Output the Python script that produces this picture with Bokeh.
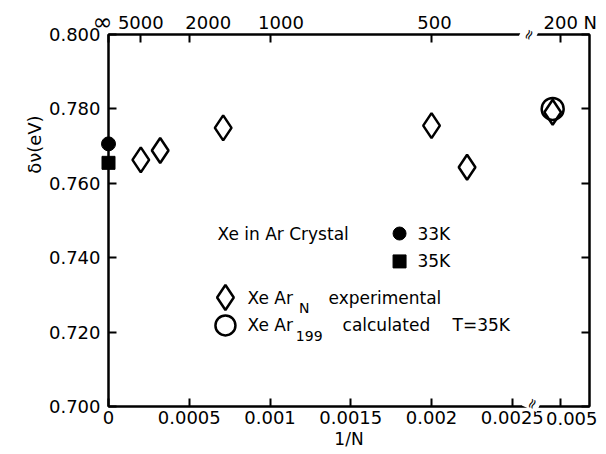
import math
from bokeh.plotting import figure
from bokeh.models import LinearAxis, FixedTicker, Label, Range1d
from bokeh.core.properties import value
from bokeh.embed import file_html
from bokeh.resources import INLINE

# ---- data ----
inv_N_exp = [0.00020, 0.00032, 0.00071, 0.00200, 0.00222, 0.00495]
shift_exp = [0.7663, 0.7688, 0.7749, 0.7755, 0.7643, 0.7791]
inv_N_calc = [0.00495]
shift_calc = [0.7800]
inv_N_crystal = [0.0]
shift_33K = [0.7706]
shift_35K = [0.7655]

bottom_ticks = [0.0, 0.0005, 0.001, 0.0015, 0.002, 0.0025, 0.005]
bottom_labels = ["0", "0.0005", "0.001", "0.0015", "0.002", "0.0025", "0.005"]
top_N = [math.inf, 5000, 2000, 1000, 500, 200]
top_labels = ["∞", "5000", "2000", "1000", "500", "200"]
y_ticks = [0.70, 0.72, 0.74, 0.76, 0.78, 0.80]
y_labels = ["0.700", "0.720", "0.740", "0.760", "0.780", "0.800"]

# broken x axis: values past the break are shifted left
BREAK_AT = 0.0027
BREAK_MARK = 0.0026
SEG2_ORIGIN = 0.005
SEG2_POS = 0.0028


def bx(v):
    return v if v <= BREAK_AT else v - SEG2_ORIGIN + SEG2_POS


FONT = "DejaVu Sans"
X_END = 0.002978

p = figure(width=606, height=454, output_backend="svg", toolbar_location=None,
           x_range=Range1d(0, X_END), y_range=Range1d(0.700, 0.800),
           x_axis_location=None, y_axis_location=None,
           min_border_left=108, min_border_right=17, min_border_top=34,
           min_border_bottom=48)
p.xgrid.visible = False
p.ygrid.visible = False
p.outline_line_color = "black"
p.outline_line_width = 2
p.background_fill_color = "white"
p.border_fill_color = "white"

bottom_axis = LinearAxis()
top_axis = LinearAxis()
left_axis = LinearAxis()
right_axis = LinearAxis()
p.add_layout(bottom_axis, "below")
p.add_layout(top_axis, "above")
p.add_layout(left_axis, "left")
p.add_layout(right_axis, "right")

bx_ticks = [bx(v) for v in bottom_ticks]
bottom_axis.ticker = FixedTicker(ticks=bx_ticks)
# last label ("0.005") is drawn separately, nudged right as in the reference
bottom_axis.major_label_overrides = {t: (l if i < len(bx_ticks) - 1 else "")
                                     for i, (t, l) in enumerate(zip(bx_ticks, bottom_labels))}
top_ticks = [bx(0.0 if math.isinf(n) else 1.0 / n) for n in top_N]
top_axis.ticker = FixedTicker(ticks=top_ticks)
top_axis.major_label_overrides = {t: "" for t in top_ticks}
top_axis.major_label_standoff = 0
left_axis.ticker = FixedTicker(ticks=y_ticks)
left_axis.major_label_overrides = {t: l for t, l in zip(y_ticks, y_labels)}
right_axis.ticker = FixedTicker(ticks=y_ticks)
right_axis.major_label_overrides = {t: "" for t in y_ticks}
right_axis.major_label_standoff = 0

for ax in [bottom_axis, top_axis, left_axis, right_axis]:
    ax.axis_line_width = 2
    ax.axis_line_color = "black"
    ax.major_tick_line_width = 2
    ax.major_tick_line_color = "black"
    ax.major_tick_in = 8
    ax.major_tick_out = 0
    ax.minor_tick_in = 0
    ax.minor_tick_out = 0
    ax.major_label_text_font = FONT
    ax.major_label_text_color = "black"
    ax.major_label_text_font_size = "18px"
left_axis.major_label_standoff = 8
bottom_axis.major_label_standoff = 4

bottom_axis.axis_label = "1/N"
bottom_axis.axis_label_text_font = FONT
bottom_axis.axis_label_text_font_size = "17px"
bottom_axis.axis_label_text_font_style = "normal"
bottom_axis.axis_label_text_color = "black"
bottom_axis.axis_label_standoff = 2


def outer_text(xs, ys, texts, x_offsets=0, align="center", angle=0.0, size="18px"):
    p.text(x=xs, y=ys, text=texts, x_offset=x_offsets, angle=angle,
           text_font=value(FONT), text_font_size=size, text_color="black",
           text_align=align, text_baseline="middle", level="overlay")


# top axis (N) labels, nudged as in the reference; the "∞" is drawn a bit larger
TOP_LABEL_Y = 0.80336
top_nudge = [-6, 0, 19, 11, 3, 0]
outer_text(top_ticks[:1], [TOP_LABEL_Y], top_labels[:1], x_offsets=top_nudge[0],
           size="24px")
outer_text(top_ticks[1:], [TOP_LABEL_Y] * (len(top_ticks) - 1), top_labels[1:],
           x_offsets=top_nudge[1:])
outer_text([X_END], [TOP_LABEL_Y], ["N"], x_offsets=-6, align="left")

# bottom "0.005" label
outer_text([bx_ticks[-1]], [0.69664], [bottom_labels[-1]], x_offsets=11)

# y-axis title (placed above centre, as in the reference)
outer_text([-0.000458], [0.7704], ["δν(eV)"], angle=math.pi / 2)

# break marks on the top and bottom axes
p.text(x=[BREAK_MARK, BREAK_MARK + 0.00002], y=[0.800, 0.7008], text=["≈", "≈"],
       angle=math.radians(65), text_font=value(FONT), text_font_size="14px",
       text_color="black", text_align="center", text_baseline="middle",
       background_fill_color="white", level="overlay")

# ---- data marks ----
p.scatter([bx(v) for v in inv_N_exp], shift_exp, marker="diamond", size=25,
          fill_color="white", line_color="black", line_width=2.5)
p.scatter([bx(v) for v in inv_N_calc], shift_calc, marker="circle", size=22,
          fill_alpha=0, line_color="black", line_width=2.5)
p.scatter(inv_N_crystal, shift_33K, marker="circle", size=14,
          fill_color="black", line_color="black", level="overlay")
p.scatter(inv_N_crystal, shift_35K, marker="square", size=13,
          fill_color="black", line_color="black", level="overlay")

# ---- in-plot key ----
def key_text(x, y, text, size="17px"):
    p.add_layout(Label(x=x, y=y, text=text, text_font=FONT, text_font_size=size,
                       text_color="black", text_align="left",
                       text_baseline="middle"))

key_text(0.000675, 0.7465, "Xe in Ar Crystal")
p.scatter([0.001802], [0.7465], marker="circle", size=13, fill_color="black",
          line_color="black")
key_text(0.001913, 0.7465, "33K")
p.scatter([0.001802], [0.7390], marker="square", size=13, fill_color="black",
          line_color="black")
key_text(0.001913, 0.7390, "35K")

p.scatter([0.000724], [0.7293], marker="diamond", size=25, fill_color="white",
          line_color="black", line_width=2.5)
key_text(0.000861, 0.7293, "Xe Ar")
key_text(0.001180, 0.7265, "N", "14px")
key_text(0.001362, 0.7293, "experimental")

p.scatter([0.000724], [0.7218], marker="circle", size=20, fill_alpha=0,
          line_color="black", line_width=2.5)
key_text(0.000861, 0.7218, "Xe Ar")
key_text(0.001160, 0.7190, "199", "14px")
key_text(0.001449, 0.7218, "calculated")
key_text(0.002130, 0.7218, "T=35K")

open("out.html", "w").write(file_html(p, INLINE))
